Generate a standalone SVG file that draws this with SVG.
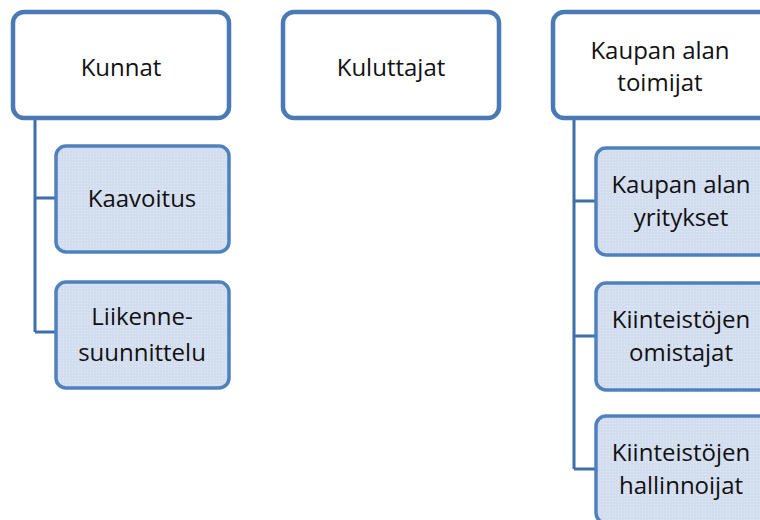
<svg xmlns="http://www.w3.org/2000/svg" width="760" height="520" viewBox="0 0 760 520">
  <style>
    .top { fill: #ffffff; stroke: #4a7ab5; stroke-width: 4.5; }
    .sub { fill: url(#dots); stroke: #4f81bd; stroke-width: 3.5; }
    .lbl { font-family: "Open Sans", "Noto Sans", sans-serif; font-size: 24px; fill: #111111; text-anchor: middle; }
    .wire { fill: none; stroke: #3f6fa8; stroke-width: 3; }
  </style>
  <defs>
    <pattern id="dots" width="3" height="3" patternUnits="userSpaceOnUse">
      <rect width="3" height="3" fill="#d2ddef"/>
      <rect x="0" y="0" width="1" height="1" fill="#e4ebf6"/>
    </pattern>
  </defs>
  <rect width="760" height="520" fill="#ffffff"/>

  <g id="connectors">
    <path class="wire" d="M35 118 V332 M35 198 H56 M35 332 H56"/>
    <path class="wire" d="M574 118 V469 M574 201 H596 M574 336 H596 M574 469 H596"/>
  </g>

  <g id="kunnat">
    <rect class="top" x="13" y="12" width="216" height="106" rx="11"/>
    <text class="lbl" x="121" y="76">Kunnat</text>
  </g>
  <g id="kuluttajat">
    <rect class="top" x="283" y="12" width="216" height="106" rx="11"/>
    <text class="lbl" x="391" y="76">Kuluttajat</text>
  </g>
  <g id="kaupan-alan-toimijat">
    <rect class="top" x="553" y="12" width="240" height="106" rx="11"/>
    <text class="lbl" x="660" y="59">Kaupan alan</text>
    <text class="lbl" x="660" y="91">toimijat</text>
  </g>

  <g id="kaavoitus">
    <rect class="sub" x="56" y="146" width="173" height="106" rx="10"/>
    <text class="lbl" x="142" y="207">Kaavoitus</text>
  </g>
  <g id="liikennesuunnittelu">
    <rect class="sub" x="56" y="282" width="173" height="106" rx="10"/>
    <text class="lbl" x="142" y="325">Liikenne-</text>
    <text class="lbl" x="142" y="361">suunnittelu</text>
  </g>

  <g id="kaupan-alan-yritykset">
    <rect class="sub" x="596" y="148" width="190" height="107" rx="10"/>
    <text class="lbl" x="681" y="193">Kaupan alan</text>
    <text class="lbl" x="681" y="226">yritykset</text>
  </g>
  <g id="kiinteistojen-omistajat">
    <rect class="sub" x="596" y="283" width="190" height="107" rx="10"/>
    <text class="lbl" x="681" y="328">Kiinteistöjen</text>
    <text class="lbl" x="681" y="361">omistajat</text>
  </g>
  <g id="kiinteistojen-hallinnoijat">
    <rect class="sub" x="596" y="416" width="190" height="107" rx="10"/>
    <text class="lbl" x="681" y="461">Kiinteistöjen</text>
    <text class="lbl" x="681" y="494">hallinnoijat</text>
  </g>
</svg>
